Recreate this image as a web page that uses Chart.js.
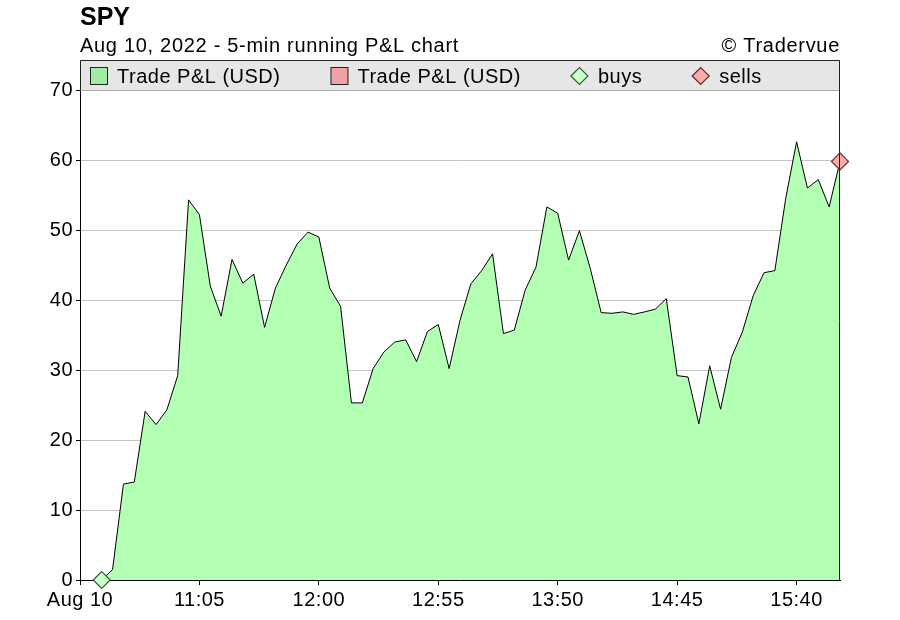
<!DOCTYPE html>
<html>
<head>
<meta charset="utf-8">
<title>SPY running P&amp;L</title>
<script src="https://cdn.jsdelivr.net/npm/chart.js@4.4.1/dist/chart.umd.min.js"></script>
<style>
  html, body { margin: 0; padding: 0; background: #fff; }
  #wrap { width: 900px; height: 620px; }
</style>
</head>
<body>
<div id="wrap"><canvas id="pnlChart" width="900" height="620"></canvas></div>
<script>
const chartTitle = "SPY";
const chartSubtitle = "Aug 10, 2022 - 5-min running P&L chart";
const copyright = "\u00A9 Tradervue";

const times = [
    "10:20", "10:25", "10:30", "10:35", "10:40", "10:45", "10:50", "10:55",
    "11:00", "11:05", "11:10", "11:15", "11:20", "11:25", "11:30", "11:35",
    "11:40", "11:45", "11:50", "11:55", "12:00", "12:05", "12:10", "12:15",
    "12:20", "12:25", "12:30", "12:35", "12:40", "12:45", "12:50", "12:55",
    "13:00", "13:05", "13:10", "13:15", "13:20", "13:25", "13:30", "13:35",
    "13:40", "13:45", "13:50", "13:55", "14:00", "14:05", "14:10", "14:15",
    "14:20", "14:25", "14:30", "14:35", "14:40", "14:45", "14:50", "14:55",
    "15:00", "15:05", "15:10", "15:15", "15:20", "15:25", "15:30", "15:35",
    "15:40", "15:45", "15:50", "15:55", "16:00"
];
const pnl = [
    0, 1.5, 13.7, 14.0, 24.1, 22.2, 24.3, 29.2,
    54.3, 52.2, 42.0, 37.7, 45.8, 42.4, 43.7, 36.1,
    41.7, 45.0, 48.0, 49.7, 49.0, 41.7, 39.1, 25.3,
    25.3, 30.2, 32.6, 34.0, 34.3, 31.2, 35.5, 36.5,
    30.2, 37.1, 42.3, 44.2, 46.6, 35.2, 35.7, 41.4,
    44.7, 53.3, 52.4, 45.7, 49.9, 44.5, 38.2, 38.1,
    38.3, 37.95, 38.3, 38.7, 40.2, 29.2, 29.0, 22.3,
    30.6, 24.4, 31.8, 35.4, 40.6, 43.9, 44.2, 54.5,
    62.6, 56.0, 57.2, 53.3, 59.8
];

const buyTimes = ["10:20"];
const buyValues = [0];
const sellTimes = ["16:00"];
const sellValues = [59.8];

const xRange = ["10:10", "16:00"];
const tickTimes = ["10:10", "11:05", "12:00", "12:55", "13:50", "14:45", "15:40"];
const tickLabels = ["Aug 10", "11:05", "12:00", "12:55", "13:50", "14:45", "15:40"];

const legendLabels = ["Trade P&L (USD)", "Trade P&L (USD)", "buys", "sells"];

const FONT = "'Liberation Sans', Arial, Helvetica, sans-serif";
const SPACING = '0.5px';

function toMinutes(hhmm) {
    const parts = hhmm.split(":");
    return parseInt(parts[0], 10) * 60 + parseInt(parts[1], 10);
}

function toPoints(ts, vs) {
    return ts.map((t, i) => ({ x: toMinutes(t), y: vs[i] }));
}

function drawDiamond(ctx, cx, cy, r, fill, stroke) {
    ctx.beginPath();
    ctx.moveTo(cx - r, cy);
    ctx.lineTo(cx, cy - r);
    ctx.lineTo(cx + r, cy);
    ctx.lineTo(cx, cy + r);
    ctx.closePath();
    ctx.fillStyle = fill;
    ctx.fill();
    ctx.lineWidth = 1.2;
    ctx.strokeStyle = stroke;
    ctx.stroke();
}

// the reference text is set a little looser than Liberation Sans
const spacingPlugin = {
    id: 'spacing',
    beforeDraw(chart) {
        chart.ctx.letterSpacing = SPACING;
    }
};

// header: title, subtitle, copyright and the grey legend strip
const headerPlugin = {
    id: 'header',
    afterDraw(chart) {
        const ctx = chart.ctx;
        const area = chart.chartArea;
        ctx.save();
        ctx.fillStyle = '#000';
        ctx.textBaseline = 'alphabetic';
        ctx.textAlign = 'left';
        ctx.letterSpacing = '0px';
        ctx.font = "bold 25px " + FONT;
        ctx.fillText(chartTitle, area.left, 25);
        ctx.letterSpacing = '0.7px';
        ctx.font = "20px " + FONT;
        ctx.fillText(chartSubtitle, area.left, 52);
        ctx.textAlign = 'right';
        ctx.fillText(copyright, area.right, 52);

        // legend box
        const top = 60.5, bottom = area.top + 0.5;
        ctx.fillStyle = '#e6e6e6';
        ctx.fillRect(area.left, top, area.right - area.left, bottom - top);
        ctx.lineWidth = 1;
        ctx.strokeStyle = '#aaaaaa';
        ctx.beginPath();
        ctx.moveTo(area.left, bottom);
        ctx.lineTo(area.right, bottom);
        ctx.stroke();
        ctx.strokeStyle = '#222';
        ctx.beginPath();
        ctx.moveTo(area.left + 0.5, bottom);
        ctx.lineTo(area.left + 0.5, top);
        ctx.lineTo(area.right - 0.5, top);
        ctx.lineTo(area.right - 0.5, area.bottom);
        ctx.stroke();

        const markers = [
            { type: 'box', fill: '#a3eba3' },
            { type: 'box', fill: '#f0a3a3' },
            { type: 'diamond', fill: '#ccffcc', stroke: '#2e5e2e' },
            { type: 'diamond', fill: '#ffaaaa', stroke: '#5e2e2e' }
        ];
        const midY = (top + bottom) / 2 + 0.5;
        let x = area.left + 10;
        ctx.font = "20px " + FONT;
        ctx.letterSpacing = SPACING;
        ctx.textAlign = 'left';
        ctx.textBaseline = 'middle';
        legendLabels.forEach((label, i) => {
            const m = markers[i];
            if (m.type === 'box') {
                ctx.fillStyle = m.fill;
                ctx.fillRect(x + 0.5, midY - 8.5, 17, 17);
                ctx.strokeStyle = '#222';
                ctx.lineWidth = 1;
                ctx.strokeRect(x + 0.5, midY - 8.5, 17, 17);
            } else {
                drawDiamond(ctx, x + 8.5, midY, 8.5, m.fill, m.stroke);
            }
            x += 27;
            ctx.fillStyle = '#000';
            ctx.fillText(label, x, midY + 1);
            x += ctx.measureText(label).width + 50;
        });
        ctx.restore();
    }
};

Chart.defaults.font.family = FONT;
Chart.defaults.font.size = 20;
Chart.defaults.color = '#000';

const ctx = document.getElementById('pnlChart').getContext('2d');
const pnlChart = new Chart(ctx, {
    type: 'line',
    data: {
        datasets: [
            {
                label: legendLabels[0],
                data: toPoints(times, pnl),
                borderColor: '#000',
                borderWidth: 1,
                backgroundColor: '#b3ffb3',
                fill: 'origin',
                pointRadius: 0,
                tension: 0,
                order: 3
            },
            {
                label: legendLabels[2],
                data: toPoints(buyTimes, buyValues),
                showLine: false,
                pointStyle: 'rectRot',
                pointRadius: 8.5,
                pointBackgroundColor: '#ccffcc',
                pointBorderColor: '#2e5e2e',
                pointBorderWidth: 1.2,
                clip: false,
                order: 1
            },
            {
                label: legendLabels[3],
                data: toPoints(sellTimes, sellValues),
                showLine: false,
                pointStyle: 'rectRot',
                pointRadius: 8.5,
                pointBackgroundColor: '#ffaaaa',
                pointBorderColor: '#5e2e2e',
                pointBorderWidth: 1.2,
                clip: false,
                order: 1
            }
        ]
    },
    options: {
        responsive: false,
        animation: false,
        devicePixelRatio: 1,
        layout: {
            padding: { top: 90, right: 60, left: 0, bottom: 0 }
        },
        plugins: {
            legend: { display: false },
            tooltip: { enabled: false }
        },
        scales: {
            x: {
                type: 'linear',
                min: toMinutes(xRange[0]),
                max: toMinutes(xRange[1]),
                afterBuildTicks: (scale) => {
                    scale.ticks = tickTimes.map(t => ({ value: toMinutes(t) }));
                },
                afterFit: (scale) => { scale.height = 40; },
                ticks: {
                    autoSkip: false,
                    maxRotation: 0,
                    padding: 3,
                    font: { size: 20 },
                    callback: (value) => {
                        const idx = tickTimes.findIndex(t => toMinutes(t) === value);
                        return idx >= 0 ? tickLabels[idx] : '';
                    }
                },
                grid: {
                    drawOnChartArea: false,
                    drawTicks: true,
                    tickLength: 5,
                    tickColor: '#000'
                },
                border: { display: true, color: '#000', width: 1 }
            },
            y: {
                min: 0,
                max: 70,
                afterFit: (scale) => { scale.width = 80; },
                ticks: {
                    stepSize: 10,
                    padding: 3,
                    font: { size: 20 }
                },
                grid: {
                    color: '#c4c4c4',
                    lineWidth: 1,
                    drawTicks: true,
                    tickLength: 4,
                    tickColor: '#000'
                },
                border: { display: true, color: '#000', width: 1 }
            }
        }
    },
    plugins: [spacingPlugin, headerPlugin]
});
</script>
</body>
</html>
